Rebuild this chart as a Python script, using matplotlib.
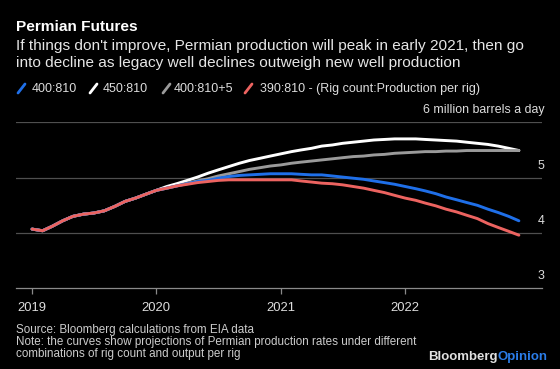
import matplotlib
matplotlib.use('Agg')
import matplotlib.pyplot as plt
from matplotlib.lines import Line2D
import pandas as pd

plt.rcParams['font.family'] = ['Liberation Sans', 'DejaVu Sans']

# monthly, Jan 2019 .. Dec 2022 (million barrels a day)
months = pd.date_range('2019-01-01', '2022-12-01', freq='MS')

# common history up to early 2020
history = [4.07, 4.04, 4.12, 4.22, 4.30, 4.34, 4.36, 4.40, 4.48, 4.57,
           4.63, 4.70, 4.77]

tail_400_810 = [4.81, 4.85, 4.89, 4.93, 4.95, 4.99, 5.02, 5.04, 5.05, 5.06,
                5.07, 5.07, 5.07, 5.06, 5.05, 5.05, 5.03, 5.01, 4.99, 4.97,
                4.94, 4.91, 4.88, 4.84, 4.80, 4.76, 4.71, 4.65, 4.60, 4.55,
                4.50, 4.43, 4.37, 4.30, 4.22]
tail_450_810 = [4.84, 4.89, 4.95, 5.01, 5.08, 5.14, 5.20, 5.26, 5.31, 5.35,
                5.39, 5.43, 5.47, 5.50, 5.53, 5.57, 5.59, 5.62, 5.64, 5.66,
                5.68, 5.69, 5.70, 5.70, 5.70, 5.69, 5.68, 5.67, 5.66, 5.64,
                5.62, 5.60, 5.57, 5.53, 5.49]
tail_400_810_5 = [4.81, 4.85, 4.90, 4.94, 4.98, 5.03, 5.07, 5.11, 5.15, 5.18,
                  5.21, 5.23, 5.26, 5.28, 5.30, 5.32, 5.34, 5.36, 5.38, 5.39,
                  5.41, 5.42, 5.44, 5.45, 5.46, 5.47, 5.47, 5.48, 5.48, 5.49,
                  5.49, 5.49, 5.49, 5.49, 5.49]
tail_390_810 = [4.81, 4.85, 4.88, 4.91, 4.93, 4.95, 4.96, 4.96, 4.96, 4.96,
                4.96, 4.96, 4.96, 4.94, 4.92, 4.90, 4.89, 4.87, 4.84, 4.81,
                4.77, 4.73, 4.68, 4.63, 4.59, 4.54, 4.49, 4.43, 4.38, 4.32,
                4.26, 4.17, 4.10, 4.03, 3.96]

labels = ['400:810', '450:810', '400:810+5', '390:810']
colors = ['#1f6fe8', '#ffffff', '#9a9a9a', '#ec6360']
series = [history + tail_400_810, history + tail_450_810,
          history + tail_400_810_5, history + tail_390_810]

yticks = [3, 4, 5, 6]
ytick_labels = ['3', '4', '5', '6 million barrels a day']
years = ['2019', '2020', '2021', '2022']

W, H = 560, 369
fig = plt.figure(figsize=(W / 100, H / 100), dpi=100, facecolor='black')
rend = fig.canvas.get_renderer()


def fx(px):
    return px / W


def fy(py):
    return 1 - py / H


def fit(t, width_px):
    # scale font so the text spans about the same width as in the original
    w = t.get_window_extent(rend).width
    t.set_fontsize(t.get_fontsize() * width_px / w)
    return t.get_fontsize()


ax = fig.add_axes([fx(15.7), fy(288.3), fx(541.7 - 15.7), (288.3 - 122.3) / H])
ax.set_facecolor('black')

# draw order: white, gray, blue, red on top
for k in [1, 2, 0, 3]:
    ax.plot(months, series[k], color=colors[k], lw=2.1, solid_capstyle='round',
            zorder=3)

ax.set_ylim(3, 6)
ax.set_xlim(pd.Timestamp('2018-11-14'), pd.Timestamp('2023-02-06'))
for v in yticks[1:]:
    ax.axhline(v, color='#4f4f4f', lw=0.9, zorder=1)
for s in ['top', 'right', 'left']:
    ax.spines[s].set_visible(False)
ax.spines['bottom'].set_color('#8a8a8a')
ax.spines['bottom'].set_linewidth(0.9)
ax.set_yticks([])
ax.set_xticks([pd.Timestamp(y + '-01-01') for y in years])
ax.set_xticklabels(years)
ax.tick_params(axis='x', colors='#8a8a8a', length=4, width=0.9, pad=6,
               labelcolor='#dddddd', labelsize=9.4)

# y labels sit above the gridlines, on the right
top = ax.annotate(ytick_labels[-1], xy=(1, 6), xycoords=('axes fraction', 'data'),
                  xytext=(3, 6), textcoords='offset pixels', ha='right',
                  va='bottom', color='#dddddd', fontsize=9)
ysz = fit(top, 121)
for v, lab in zip(yticks[:-1], ytick_labels[:-1]):
    ax.annotate(lab, xy=(1, v), xycoords=('axes fraction', 'data'),
                xytext=(3, 6), textcoords='offset pixels', ha='right',
                va='bottom', color='#dddddd', fontsize=ysz)

# titles
t = fig.text(fx(16), fy(27), 'Permian Futures', color='white', fontsize=11,
             fontweight='bold', va='center')
fit(t, 122)
s1 = fig.text(fx(16), fy(46), "If things don't improve, Permian production will peak in early 2021, then go",
              color='#e6e6e6', fontsize=10, va='center')
ssz = fit(s1, 508)
fig.text(fx(16), fy(63.5), 'into decline as legacy well declines outweigh new well production',
         color='#e6e6e6', fontsize=ssz, va='center')

# legend
leg_x = [17, 89, 162, 244]
txt_x = [32, 103, 174, 259.6]
leg_text = labels[:3] + [labels[3] + ' - (Rig count:Production per rig)']
last = fig.text(fx(txt_x[3]), fy(89), leg_text[3], color='#dddddd',
                fontsize=9, va='center')
lsz = fit(last, 221)
for lx, tx, c, txt in zip(leg_x, txt_x, colors, leg_text):
    fig.add_artist(Line2D([fx(lx + 1), fx(lx + 8)], [fy(93), fy(84)],
                          color=c, lw=2, solid_capstyle='round'))
    if txt != leg_text[3]:
        fig.text(fx(tx), fy(89), txt, color='#dddddd', fontsize=lsz, va='center')

# footer
note = fig.text(fx(16), fy(341.7),
                'Note: the curves show projections of Permian production rates under different',
                color='#cccccc', fontsize=8, va='center')
fsz = fit(note, 404)
fig.text(fx(16), fy(329.7), 'Source: Bloomberg calculations from EIA data',
         color='#cccccc', fontsize=fsz, va='center')
fig.text(fx(16), fy(353.7), 'combinations of rig count and output per rig',
         color='#cccccc', fontsize=fsz, va='center')

# logo
op = fig.text(fx(547.7), fy(356.7), 'Opinion', color='#2b7de9', fontsize=9.5,
              fontweight='bold', va='center', ha='right')
bl = fig.text(fx(547.7), fy(356.7), 'Bloomberg', color='#e0e0e0', fontsize=9.5,
              fontweight='bold', va='center', ha='right')
total = op.get_window_extent(rend).width + bl.get_window_extent(rend).width
op.set_fontsize(9.5 * 120 / total)
bl.set_fontsize(9.5 * 120 / total)
bl.set_x(fx(547.7 - op.get_window_extent(rend).width))

fig.savefig('out.png', dpi=100, facecolor='black')
